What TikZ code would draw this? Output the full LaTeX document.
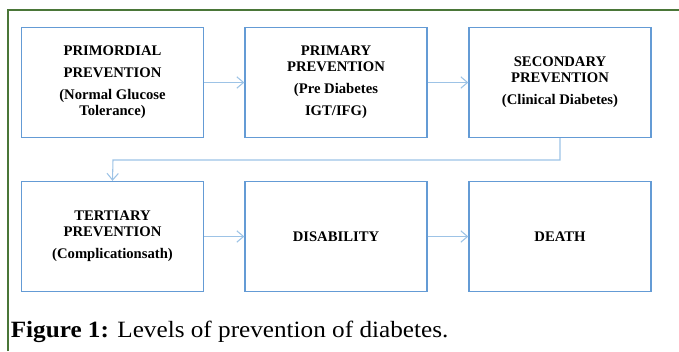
\documentclass[tikz,border=0pt]{standalone}
\usepackage{fontspec}
\setmainfont{Liberation Serif}
\newfontfamily\capfont[FakeStretch=1.08]{Liberation Serif}
\usetikzlibrary{arrows.meta}
\definecolor{boxblue}{RGB}{100,155,213}
\definecolor{lineblue}{RGB}{157,195,230}
\definecolor{framegreen}{RGB}{74,118,56}
\tikzset{
  level/.style={shape=rectangle,draw=boxblue,line width=1pt,minimum width=136.5pt,minimum height=82.5pt,
    inner sep=0pt,align=center,font=\fontsize{11}{12}\selectfont\bfseries},
  flow/.style={draw=lineblue,line width=0.8pt,-{Straight Barb[length=5pt,width=8.5pt]}}
}
\begin{document}
\begin{tikzpicture}[x=0.75pt,y=-0.75pt]
            \useasboundingbox (0,0) rectangle (679,351);
            \draw[framegreen,line width=1.5pt] (8,351) -- (8,10) -- (679,10);

            \node[level] (A) at (112.5,82.5) {PRIMORDIAL\\[4.5pt]PREVENTION\\[4.5pt](Normal Glucose\\Tolerance)};
            \node[level] (B) at (336,82.5)   {PRIMARY\\PREVENTION\\[4.5pt](Pre Diabetes\\[4.5pt]IGT/IFG)};
            \node[level] (C) at (560,82.5)   {SECONDARY\\PREVENTION\\[4.5pt](Clinical Diabetes)};
            \node[level] (D) at (112.5,236.5) {TERTIARY\\PREVENTION\\[4.5pt](Complicationsath)};
            \node[level] (E) at (336,236.5)  {DISABILITY};
            \node[level] (F) at (560,236.5)  {DEATH};
            \coordinate (K) at (113,160);

            \path[flow] (A) edge (B);
            \path[flow] (B) edge (C);
            \draw[flow] (C.south) |- (K) -- (D.north);
            \path[flow] (D) edge (E);
            \path[flow] (E) edge (F);

            \node[anchor=base west,inner sep=0pt,font=\capfont\fontsize{17.5}{20}\selectfont] (cap) at (10.5,337)
                {\textbf{Figure 1:} Levels of prevention of diabetes.};
        \end{tikzpicture}
\end{document}
